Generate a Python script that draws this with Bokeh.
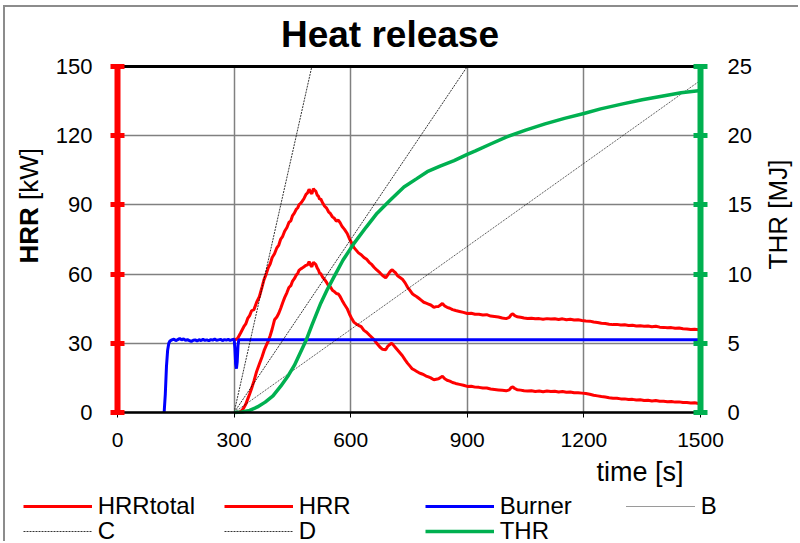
import math
from bokeh.plotting import figure
from bokeh.models import Range1d, LinearAxis, FixedTicker, Label, Legend, LegendItem
from bokeh.embed import file_html
from bokeh.resources import INLINE

FONT = "Liberation Sans"

# ---------------- data ----------------
x_ticks = [0, 300, 600, 900, 1200, 1500]
hrr_ticks = [0, 30, 60, 90, 120, 150]
thr_ticks = [0, 5, 10, 15, 20, 25]

burner_t = [120, 123, 126, 129, 132, 135, 140, 145, 150, 155, 160, 165, 170, 175, 180, 185, 190,
            195, 200, 205, 210, 215, 220, 225, 230, 235, 240, 245, 250, 255, 260, 265, 270, 275,
            280, 285, 290, 295, 300, 302, 304, 306, 308, 310, 312, 1500]
burner_v = [0, 8, 20, 27, 30, 31, 31.5, 31.8, 31.2, 31.6, 32.1, 31.5, 31.9, 31.3, 31.6, 31.2, 30.8,
            31.3, 31.5, 31.0, 31.6, 31.2, 31.7, 31.3, 31.5, 31.1, 31.6, 31.4, 31.8, 31.3, 31.5, 31.7,
            31.2, 31.6, 31.4, 31.7, 31.3, 31.6, 31.8, 28, 21, 19, 22, 29, 31.5, 31.5]

hrrtotal_t = [300, 305, 310, 317, 325, 330, 335, 340, 345, 351, 358, 365, 372, 377, 383, 388, 393,
              398, 404, 410, 415, 420, 425, 430, 436, 441, 446, 450, 455, 460, 464, 467, 471, 475,
              480, 485, 489, 493, 497, 500, 504, 507, 510, 514, 517, 520, 523, 528, 533, 538, 543,
              548, 553, 558, 563, 568, 573, 578, 584, 591, 597, 603, 608, 614, 620, 627, 634, 641,
              648, 654, 660, 667, 675, 682, 690, 695, 700, 704, 707, 711, 715, 720, 726, 733, 740,
              746, 752, 758, 764, 770, 776, 782, 788, 794, 800, 806, 814, 820, 826, 831, 836, 842,
              848, 855, 862, 870, 880, 890, 900, 910, 920, 930, 940, 950, 960, 970, 980, 990, 1000,
              1008, 1013, 1017, 1022, 1028, 1037, 1046, 1055, 1065, 1075, 1085, 1095, 1105, 1115,
              1125, 1135, 1145, 1155, 1165, 1175, 1185, 1195, 1205, 1215, 1225, 1235, 1245, 1255,
              1265, 1275, 1285, 1295, 1305, 1315, 1325, 1335, 1345, 1355, 1365, 1375, 1385, 1395,
              1405, 1415, 1425, 1435, 1445, 1455, 1465, 1475, 1485, 1495, 1500]
hrrtotal_v = [31.8, 31.6, 32.4, 34.6, 37.2, 38.4, 40.8, 42.0, 44.1, 44.6, 47.8, 50.2, 54.5, 57.6,
              60.2, 62.8, 64.5, 67.2, 68.8, 71.4, 72.6, 75.2, 76.4, 78.6, 80.2, 82.4, 83.1, 85.2,
              86.4, 88.1, 88.8, 90.1, 90.6, 91.5, 92.8, 94.6, 95.2, 96.8, 95.4, 94.8, 97.0, 96.4,
              96.0, 94.2, 93.8, 92.4, 92.6, 90.8, 89.4, 88.6, 87.0, 86.2, 84.8, 84.2, 83.0, 83.4,
              82.2, 80.6, 79.4, 77.6, 75.2, 73.4, 71.6, 70.4, 69.2, 68.4, 67.2, 66.4, 65.0, 64.2,
              63.0, 61.8, 60.6, 59.4, 58.4, 59.6, 60.8, 61.6, 61.8, 61.2, 60.6, 59.4, 58.6, 57.8,
              56.2, 54.4, 53.0, 51.6, 50.8, 50.2, 49.4, 48.6, 47.8, 47.4, 47.0, 46.6, 45.6, 45.9,
              46.0, 46.6, 47.3, 46.2, 45.6, 45.2, 44.6, 44.2, 43.8, 43.4, 42.9, 43.0, 42.6, 42.6,
              42.3, 42.4, 41.8, 41.6, 41.4, 41.0, 40.7, 41.2, 42.4, 42.8, 42.0, 41.5, 41.3, 41.0,
              40.8, 40.9, 40.6, 40.7, 40.4, 40.7, 40.5, 40.6, 40.3, 40.6, 40.2, 40.4, 40.1, 40.2,
              39.9, 39.7, 39.6, 39.2, 39.0, 38.7, 38.6, 38.3, 38.1, 38.2, 37.9, 38.0, 37.7, 37.8,
              37.5, 37.6, 37.4, 37.5, 37.2, 37.4, 37.0, 36.9, 36.7, 36.8, 36.5, 36.6, 36.3, 36.2,
              36.0, 36.1, 35.9, 35.8]

hrr_t = [310, 315, 320, 325, 330, 335, 340, 345, 351, 358, 365, 372, 377, 383, 388, 393, 398, 404,
         410, 415, 420, 425, 430, 436, 441, 446, 450, 455, 460, 464, 467, 471, 475, 480, 485, 489,
         493, 497, 500, 504, 507, 510, 514, 517, 520, 523, 528, 533, 538, 543, 548, 553, 558, 563,
         568, 573, 578, 584, 591, 597, 603, 608, 614, 620, 627, 634, 641, 648, 654, 660, 667, 675,
         682, 690, 695, 700, 704, 707, 711, 715, 720, 726, 733, 740, 746, 752, 758, 764, 770, 776,
         782, 788, 794, 800, 806, 814, 820, 826, 831, 836, 842, 848, 855, 862, 870, 880, 890, 900,
         910, 920, 930, 940, 950, 960, 970, 980, 990, 1000, 1008, 1013, 1017, 1022, 1028, 1037,
         1046, 1055, 1065, 1075, 1085, 1095, 1105, 1115, 1125, 1135, 1145, 1155, 1165, 1175, 1185,
         1195, 1205, 1215, 1225, 1235, 1245, 1255, 1265, 1275, 1285, 1295, 1305, 1315, 1325, 1335,
         1345, 1355, 1365, 1375, 1385, 1395, 1405, 1415, 1425, 1435, 1445, 1455, 1465, 1475, 1485,
         1495, 1500]
hrr_v = [0, 0.3, 0.8, 2.0, 3.6, 5.8, 8.0, 10.4, 13.6, 17.8, 21.0, 24.2, 26.8, 29.2, 31.0, 33.4,
         36.2, 40.2, 41.4, 43.0, 45.2, 47.6, 49.8, 52.0, 54.2, 55.0, 56.8, 58.0, 59.6, 60.4, 61.6,
         62.2, 62.6, 63.2, 63.8, 64.0, 65.4, 63.8, 63.2, 65.2, 64.6, 64.2, 62.6, 61.8, 60.4, 60.2,
         58.6, 57.6, 56.4, 55.0, 54.4, 53.0, 52.4, 51.6, 51.4, 50.2, 48.6, 46.8, 45.0, 42.6, 40.6,
         39.2, 38.4, 37.8, 37.2, 35.6, 34.8, 33.6, 32.6, 31.6, 30.0, 28.4, 27.4, 27.2, 28.6, 29.4,
         29.9, 29.8, 29.0, 28.2, 27.2, 26.0, 24.6, 22.8, 21.4, 20.2, 19.0, 18.4, 17.8, 17.2, 16.8,
         16.4, 15.8, 15.4, 15.0, 14.2, 14.4, 14.6, 15.2, 15.7, 14.6, 14.0, 13.6, 13.0, 12.6, 12.2,
         11.8, 11.3, 11.4, 11.0, 10.9, 10.6, 10.6, 10.2, 10.0, 9.8, 9.6, 9.4, 9.8, 10.8, 11.1, 10.4,
         9.9, 9.7, 9.4, 9.3, 9.4, 9.1, 9.3, 9.0, 9.3, 9.1, 9.2, 8.9, 9.1, 8.8, 8.9, 8.6, 8.6, 8.4,
         8.2, 7.9, 7.5, 7.2, 6.9, 6.7, 6.4, 6.2, 6.2, 5.9, 5.9, 5.6, 5.7, 5.4, 5.5, 5.2, 5.3, 5.0,
         5.2, 4.9, 4.9, 4.7, 4.8, 4.5, 4.6, 4.3, 4.3, 4.1, 4.2, 3.9, 3.8]

thr_t = [300, 320, 340, 360, 380, 400, 420, 440, 455, 470, 485, 500, 523, 540, 557, 580, 608, 640,
         668, 700, 737, 770, 797, 830, 866, 900, 921, 960, 1000, 1050, 1100, 1150, 1200, 1243, 1300,
         1350, 1400, 1450, 1500]
thr_v = [0, 0.03, 0.15, 0.4, 0.75, 1.2, 1.9, 2.7, 3.4, 4.3, 5.2, 6.3, 7.9, 8.9, 9.8, 11.0, 12.2,
         13.4, 14.4, 15.3, 16.3, 16.9, 17.4, 17.8, 18.2, 18.65, 18.9, 19.4, 19.9, 20.4, 20.85,
         21.25, 21.6, 21.94, 22.3, 22.6, 22.85, 23.1, 23.27]

# classification lines (start / end points)
B_t, B_v = [300, 1500], [0, 144]
C_t, C_v = [300, 900], [0, 150]
D_t, D_v = [300, 500], [0, 150]

X_MIN, X_MAX = 0, 1500
Y_MIN, Y_MAX = 0, 150
T_MIN, T_MAX = 0, 25

# ---------------- geometry (page pixels) ----------------
OX, OY = 5, 7                     # page position of the canvas origin
W, H = 795, 536                   # canvas size
PL, PR, PT, PB = 117, 700, 66, 412  # plot area edges in page pixels


def span(lo_val, hi_val, lo_px, hi_px, c0, c1):
    """data range that maps pixel c0..c1 given lo_val@lo_px, hi_val@hi_px"""
    k = (hi_val - lo_val) / (hi_px - lo_px)
    return lo_val + (c0 - lo_px) * k, lo_val + (c1 - lo_px) * k


xr = span(X_MIN, X_MAX, PL, PR, OX, OX + W)
yr = span(Y_MIN, Y_MAX, PB, PT, OY + H, OY)
tr = span(T_MIN, T_MAX, PB, PT, OY + H, OY)


def sx(px):
    return px - OX


def sy(py):
    return OY + H - py


p = figure(width=W, height=H, min_border=0,
           x_range=Range1d(*xr), y_range=Range1d(*yr),
           output_backend="svg", toolbar_location=None, title=None)
p.styles = {"margin-left": "3px", "margin-top": "5px",
            "border-left": "2px solid #8c8c8c", "border-top": "2px solid #8c8c8c"}
p.background_fill_color = "white"
p.border_fill_color = "white"
p.outline_line_color = None
p.extra_y_ranges = {"thr": Range1d(*tr)}

RED, BLUE, GREEN = "#FF0000", "#0000FF", "#00B050"

r_total = p.line(hrrtotal_t, hrrtotal_v, line_color=RED, line_width=3)
r_hrr = p.line(hrr_t, hrr_v, line_color=RED, line_width=3)
r_burn = p.line(burner_t, burner_v, line_color=BLUE, line_width=3)
r_B = p.line(B_t, B_v, line_color="black", line_width=0.8, line_dash="1 1")
r_C = p.line(C_t, C_v, line_color="black", line_width=0.8, line_dash="2 1")
r_D = p.line(D_t, D_v, line_color="black", line_width=0.8, line_dash="2 1")
r_thr = p.line(thr_t, thr_v, line_color=GREEN, line_width=3.5, y_range_name="thr")

# grids limited to the plot area
p.xgrid.bounds = (X_MIN, X_MAX)
p.ygrid.bounds = (Y_MIN, Y_MAX)
for g in (p.xgrid, p.ygrid):
    g.grid_line_color = "#808080"
    g.grid_line_width = 1.5
try:
    p.xgrid.cross_bounds = (Y_MIN, Y_MAX)
    p.ygrid.cross_bounds = (X_MIN, X_MAX)
except Exception:
    p.xgrid.visible = False
    p.ygrid.visible = False
    p.segment(x0=x_ticks[1:-1], x1=x_ticks[1:-1], y0=Y_MIN, y1=Y_MAX,
              line_color="#808080", line_width=1.5, level="underlay")
    p.segment(x0=X_MIN, x1=X_MAX, y0=hrr_ticks[1:-1], y1=hrr_ticks[1:-1],
              line_color="#808080", line_width=1.5, level="underlay")

# bottom axis
xa = p.xaxis[0]
xa.fixed_location = Y_MIN
xa.bounds = (X_MIN, X_MAX)
xa.ticker = FixedTicker(ticks=x_ticks)
xa.axis_line_color = "black"
xa.axis_line_width = 2.5
xa.major_tick_line_color = "black"
xa.major_tick_line_width = 1
xa.major_tick_in = 0
xa.major_tick_out = 5
xa.minor_tick_line_color = None
xa.major_label_standoff = 15
xa.major_label_text_font = FONT
xa.major_label_text_font_size = "21px"
xa.major_label_text_color = "black"

# top border line
ta = LinearAxis(fixed_location=Y_MAX, bounds=(X_MIN, X_MAX), ticker=FixedTicker(ticks=[]))
ta.axis_line_color = "black"
ta.axis_line_width = 3
ta.major_tick_line_color = None
ta.minor_tick_line_color = None
ta.major_label_text_alpha = 0
p.add_layout(ta, "above")

# left axis
ya = p.yaxis[0]
ya.fixed_location = X_MIN
ya.bounds = (Y_MIN, Y_MAX)
ya.ticker = FixedTicker(ticks=hrr_ticks)
ya.axis_line_color = RED
ya.axis_line_width = 6
ya.major_tick_line_color = RED
ya.major_tick_line_width = 5
ya.major_tick_in = 7
ya.major_tick_out = 7
ya.minor_tick_line_color = None
ya.major_label_standoff = 18
ya.major_label_text_font = FONT
ya.major_label_text_font_size = "22px"
ya.major_label_text_color = "black"

# right axis
ra = LinearAxis(y_range_name="thr", ticker=FixedTicker(ticks=thr_ticks),
                fixed_location=X_MAX, bounds=(T_MIN, T_MAX))
ra.axis_line_color = GREEN
ra.axis_line_width = 6
ra.major_tick_line_color = GREEN
ra.major_tick_line_width = 5
ra.major_tick_in = 7
ra.major_tick_out = 7
ra.minor_tick_line_color = None
ra.major_label_standoff = 20
ra.major_label_text_font = FONT
ra.major_label_text_font_size = "22px"
ra.major_label_text_color = "black"
p.add_layout(ra, "right")


def label(px, py, text, size, bold=False, angle=0.0, align="left"):
    return Label(x=sx(px), y=sy(py), x_units="screen", y_units="screen", angle=angle,
                 text=text, text_font=FONT, text_font_size=f"{size}px",
                 text_font_style="bold" if bold else "normal", text_color="black",
                 text_align=align, text_baseline="alphabetic")


# texts (positions tuned to the rendered baseline)
p.add_layout(label(389.5, 33.7, "Heat release", 37, bold=True, align="center"))
p.add_layout(label(28.3, 263, "HRR", 26, bold=True, angle=math.pi / 2))
p.add_layout(label(28.3, 199.5, "[kW]", 26, angle=math.pi / 2))
p.add_layout(label(777.3, 214, "THR [MJ]", 26, angle=math.pi / 2, align="center"))
p.add_layout(label(683, 471, "time [s]", 27, align="right"))


def make_legend(items, loc):
    lg = Legend(items=items, location=loc, orientation="horizontal")
    lg.glyph_width = 69
    lg.glyph_height = 24
    lg.label_height = 24
    lg.label_width = 126
    lg.label_standoff = 6
    lg.spacing = 0
    lg.padding = 0
    lg.margin = 0
    lg.border_line_color = None
    lg.background_fill_alpha = 0
    lg.label_text_font = FONT
    lg.label_text_font_size = "24px"
    lg.label_text_color = "black"
    return lg


leg1 = make_legend([LegendItem(label="HRRtotal", renderers=[r_total]),
                    LegendItem(label="HRR", renderers=[r_hrr]),
                    LegendItem(label="Burner", renderers=[r_burn]),
                    LegendItem(label="B", renderers=[r_B])], (sx(22.7), sy(520)))
leg2 = make_legend([LegendItem(label="C", renderers=[r_C]),
                    LegendItem(label="D", renderers=[r_D]),
                    LegendItem(label="THR", renderers=[r_thr])], (sx(22.7), sy(545)))
p.add_layout(leg1, "center")
p.add_layout(leg2, "center")

open("out.html", "w").write(file_html(p, INLINE))
